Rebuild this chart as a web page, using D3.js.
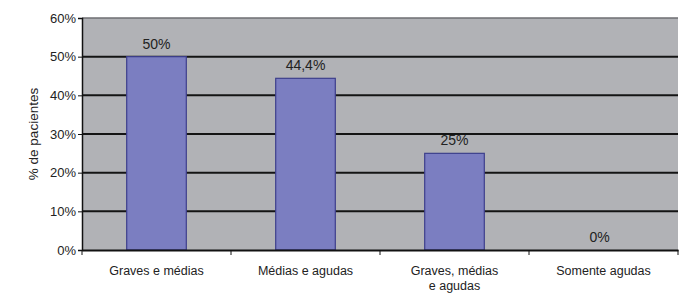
<!DOCTYPE html>
<html><head><meta charset="utf-8">
<script src="https://cdn.jsdelivr.net/npm/d3@7"></script>
<style>
body{margin:0;background:#fff;}
text{font-family:"Liberation Sans",Arial,sans-serif;fill:#222;}
</style></head>
<body>
<svg id="c" width="700" height="294"></svg>
<script>
const categories = [["Graves e médias"], ["Médias e agudas"], ["Graves, médias", "e agudas"], ["Somente agudas"]];
const values = [50, 44.4, 25, 0];
const valueLabels = ["50%", "44,4%", "25%", "0%"];
const yTicks = [0, 10, 20, 30, 40, 50, 60];
const yTitle = "% de pacientes";

const svg = d3.select("#c");
const m = {l: 82, r: 22, t: 18, b: 44};
const W = 700, H = 294;
const x = d3.scaleBand().domain(d3.range(categories.length)).range([m.l, W - m.r]).paddingInner(0.6).paddingOuter(0.3);
const xb = d3.scaleBand().domain(d3.range(categories.length)).range([m.l, W - m.r]);
const y = d3.scaleLinear().domain([0, 60]).range([H - m.b, m.t]);

svg.append("rect").attr("x", m.l).attr("y", m.t).attr("width", W - m.r - m.l).attr("height", H - m.b - m.t).attr("fill", "#b1b2b6");
svg.append("line").attr("x1", m.l).attr("x2", W - m.r).attr("y1", m.t).attr("y2", m.t).attr("stroke", "#6e6e72").attr("stroke-width", 1.5);

// gridlines
svg.append("g").selectAll("line").data(yTicks.filter(d => d > 0 && d < 60)).join("line")
  .attr("x1", m.l).attr("x2", W - m.r).attr("y1", d => y(d)).attr("y2", d => y(d))
  .attr("stroke", "#141414").attr("stroke-width", 2);

// bars
svg.append("g").selectAll("rect").data(values).join("rect")
  .attr("x", (d, i) => x(i)).attr("width", x.bandwidth())
  .attr("y", d => y(d)).attr("height", d => y(0) - y(d))
  .attr("fill", "#7b7ec1").attr("stroke", "#3d3f8c").attr("stroke-width", 1.2);

// value labels
svg.append("g").selectAll("text").data(values).join("text")
  .attr("x", (d, i) => x(i) + x.bandwidth() / 2 - (d === 0 ? 4 : 0)).attr("y", d => y(d) - 8)
  .attr("text-anchor", "middle").attr("font-size", 14).text((d, i) => valueLabels[i]);

// y axis
const ya = d3.axisLeft(y).tickValues(yTicks).tickFormat(d => d + "%").tickSize(4).tickPadding(2);
const gy = svg.append("g").attr("transform", `translate(${m.l},0)`).call(ya);
gy.select(".domain").attr("stroke", "#111").attr("stroke-width", 1.5);
gy.selectAll(".tick line").attr("stroke", "#111");
gy.selectAll("text").attr("font-size", 13).attr("fill", "#222").style("font-family", '"Liberation Sans",Arial,sans-serif');

// x axis
const xa = d3.axisBottom(xb).tickValues([]).tickSizeOuter(0);
const gx = svg.append("g").attr("transform", `translate(0,${y(0)})`).call(xa);
gx.select(".domain").attr("stroke", "#111").attr("stroke-width", 2);
gx.selectAll(".sep").data(d3.range(categories.length + 1)).join("line").attr("class", "sep")
  .attr("x1", i => i < categories.length ? xb(i) : xb.range()[1]).attr("x2", i => i < categories.length ? xb(i) : xb.range()[1])
  .attr("y1", 0).attr("y2", 5).attr("stroke", "#111").attr("stroke-width", 1);

const lbl = svg.append("g").selectAll("text").data(categories).join("text")
  .attr("x", (d, i) => xb(i) + xb.bandwidth() / 2).attr("y", 275)
  .attr("text-anchor", "middle").attr("font-size", 12.5);
lbl.selectAll("tspan").data(d => d).join("tspan")
  .attr("x", function() { return d3.select(this.parentNode).attr("x"); })
  .attr("dy", (d, j) => j === 0 ? 0 : 15).text(d => d);

svg.append("text").attr("transform", `translate(38,${(m.t + H - m.b) / 2}) rotate(-90)`)
  .attr("text-anchor", "middle").attr("font-size", 13.5).text(yTitle);
</script>
</body></html>
